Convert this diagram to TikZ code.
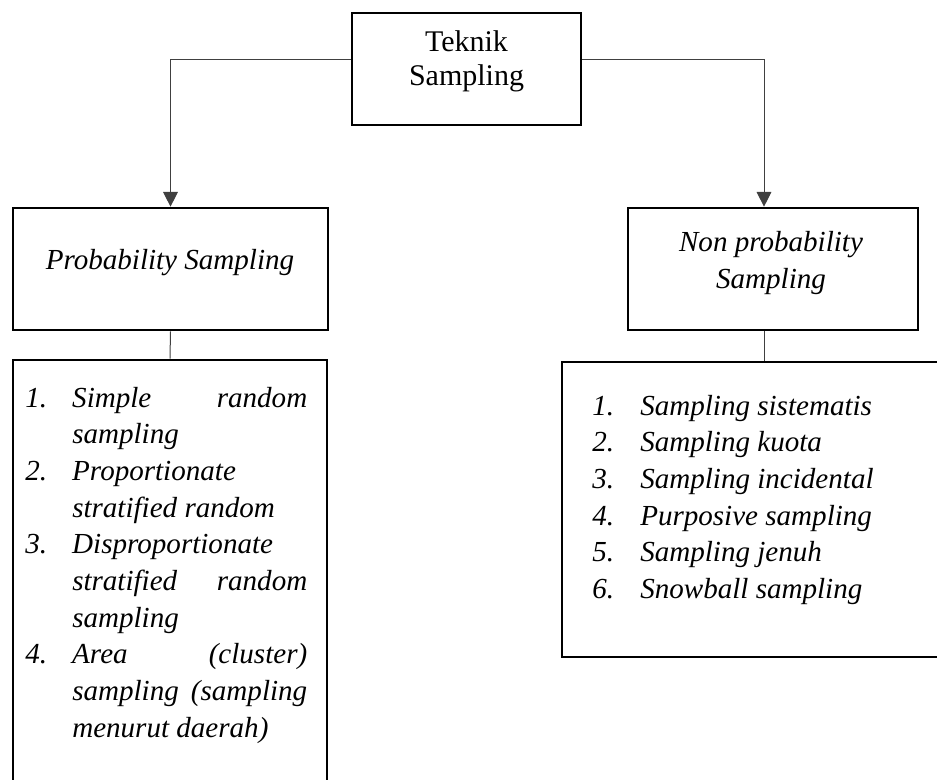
\documentclass[tikz,border=0pt]{standalone}
\usepackage{fontspec}
\setmainfont{Liberation Serif}
\usetikzlibrary{arrows.meta}

\tikzset{
  box/.style={draw=black, line width=2pt, inner sep=0pt},
  conn/.style={draw=black!75, line width=0.75pt},
  arr/.style={conn, -{Triangle[width=11pt,length=11pt]}},
  txt/.style={inner sep=0pt, anchor=base, font=\fontsize{21.8}{27.5}\selectfont}
}
\newcommand{\jline}[1]{\makebox[176.25pt][s]{#1}} % justified line, left list

\begin{document}
\begin{tikzpicture}[x=0.75pt, y=-0.75pt]
\clip (0,0) rectangle (937,780); % page 937 x 780

% boxes
\node[box, minimum width=171.75pt, minimum height=84pt] (teknik) at (466.5,69) {};
\node[box, minimum width=236.25pt, minimum height=91.5pt] (prob) at (170.5,269) {};
\node[box, minimum width=217.5pt, minimum height=91.5pt] (nonprob) at (773,269) {};
\node[box, minimum width=235.5pt, minimum height=330pt] (problist) at (170,580) {};
\node[box, minimum width=291pt, minimum height=221.25pt] (nonlist) at (756,509.5) {};

% connectors
\draw[arr] (teknik.west |- 0,60) -| (prob.north);
\draw[arr] (teknik.east |- 0,60) -| (nonprob.north -| 764,0);
\draw[conn] (prob.south) -- (problist.north);
\draw[conn] (nonprob.south -| 764,0) -- (nonlist.north -| 764,0);

% texts
\node[txt, font=\fontsize{22.5}{25.5}\selectfont] (teknikt) at (466.5,52)
  {\begin{tabular}[t]{@{}c@{}}Teknik\\Sampling\end{tabular}};
\node[txt] (probt) at (170,270) {\itshape Probability Sampling};
\node[txt] (nonprobt) at (771,252)
  {\itshape\begin{tabular}[t]{@{}c@{}}Non probability\\Sampling\end{tabular}};

\node[txt, anchor=base west] (probitems) at (25,407) {\itshape
  \begin{tabular}[t]{@{}p{35.25pt}@{}l@{}}
  1. & \jline{Simple random}\\
     & sampling\\
  2. & Proportionate\\
     & stratified random\\
  3. & Disproportionate\\
     & \jline{stratified random}\\
     & sampling\\
  4. & \jline{Area (cluster)}\\
     & \jline{sampling (sampling}\\
     & menurut daerah)
  \end{tabular}};

\node[txt, anchor=base west] (nonitems) at (592,415) {\itshape
  \begin{tabular}[t]{@{}p{36pt}@{}l@{}}
  1. & Sampling sistematis\\
  2. & Sampling kuota\\
  3. & Sampling incidental\\
  4. & Purposive sampling\\
  5. & Sampling jenuh\\
  6. & Snowball sampling
  \end{tabular}};
\end{tikzpicture}
\end{document}
